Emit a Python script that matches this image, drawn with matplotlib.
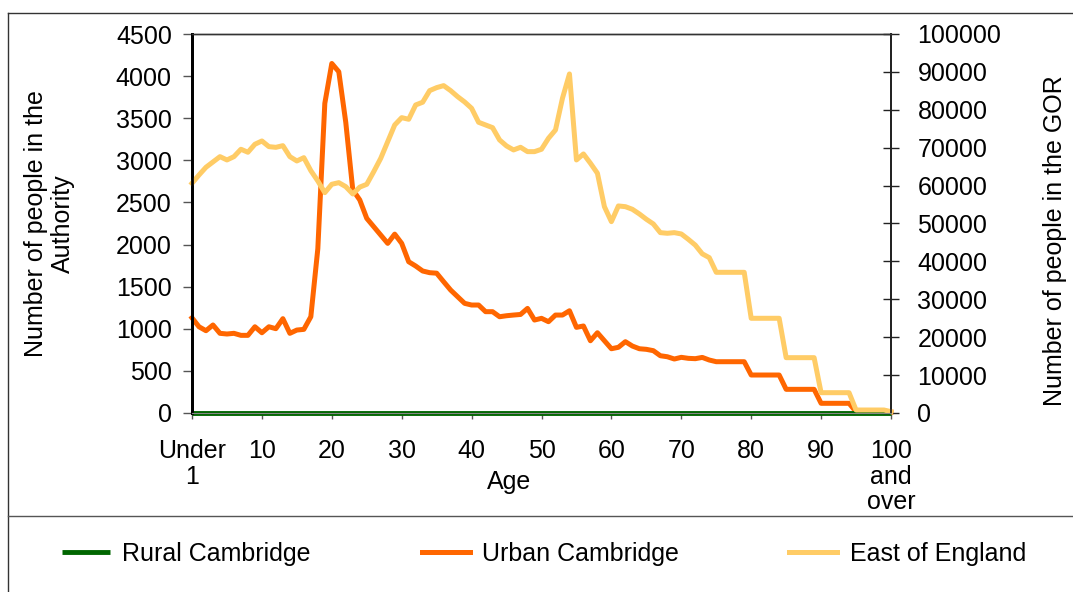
import matplotlib
matplotlib.use("Agg")
import matplotlib.pyplot as plt
from matplotlib.lines import Line2D
import numpy as np

plt.rcParams['font.family'] = ['Liberation Sans', 'DejaVu Sans']
plt.rcParams['font.size'] = 18

# ages 0 (Under 1) .. 100 (100 and over)
ages = list(range(101))

rural = [0] * 101

urban = [1130, 1024, 977, 1045, 946, 938, 946, 922, 922, 1024,
         953, 1024, 1001, 1120, 946, 985, 993, 1143, 1950, 3676,
         4150, 4052, 3450, 2650, 2530, 2311, 2212, 2113, 2014, 2124,
         2014, 1796, 1745, 1686, 1666, 1660, 1559, 1460, 1381, 1302,
         1282, 1282, 1203, 1203, 1143, 1155, 1163, 1170, 1242, 1104,
         1124, 1084, 1163, 1163, 1214, 1017, 1033, 858, 953, 858,
         763, 780, 847, 795, 763, 756, 740, 680, 668, 641,
         661, 649, 645, 660, 629, 609, 609, 609, 609, 609,
         451, 451, 451, 451, 451, 281, 281, 281, 281, 281,
         115, 115, 115, 115, 115, 15, 15, 15, 15, 15,
         10]

east = [60620, 62800, 64840, 66240, 67640, 66770, 67640, 69590, 68800, 70910,
        71780, 70280, 70100, 70540, 67640, 66500, 67370, 63940, 61220, 58140,
        60350, 60780, 59720, 57790, 59600, 60350, 63680, 67200, 71600, 76000,
        77930, 77500, 81280, 82000, 85060, 85850, 86380, 85060, 83470, 82070,
        80400, 76710, 76000, 75290, 72050, 70460, 69410, 70110, 68960, 68960,
        69590, 72490, 74680, 83050, 89460, 66770, 68350, 65900, 63260, 54440,
        50490, 54630, 54440, 53750, 52520, 51120, 49880, 47590, 47420, 47590,
        47240, 45830, 44300, 42000, 40990, 37120, 37120, 37120, 37120, 37120,
        24990, 24990, 24990, 24990, 24990, 14600, 14600, 14600, 14600, 14600,
        5360, 5360, 5360, 5360, 5360, 790, 790, 790, 790, 790,
        350]

xtick_pos = [0, 10, 20, 30, 40, 50, 60, 70, 80, 90, 100]
xtick_labels = ['Under\n1', '10', '20', '30', '40', '50', '60', '70', '80', '90',
                '100\nand\nover']

fig = plt.figure(figsize=(10.73, 5.92), dpi=100)
ax = fig.add_axes([192/1073, 1 - 413/592, 699/1073, 379/592])
ax2 = ax.twinx()

l1, = ax.plot(ages, rural, color='#006600', lw=3.5, solid_capstyle='butt', clip_on=False, zorder=3)
l2, = ax.plot(ages, urban, color='#FF6600', lw=3.6, clip_on=False)
l3, = ax2.plot(ages, east, color='#FFCC66', lw=3.6, clip_on=False)

ax.set_xlim(0, 100)
ax.set_ylim(0, 4500)
ax2.set_ylim(0, 100000)
ax.set_yticks(np.arange(0, 4501, 500))
ax2.set_yticks(np.arange(0, 100001, 10000))
ax.set_xticks(xtick_pos)
ax.set_xticklabels(xtick_labels, va='top', linespacing=1.1)

ax.tick_params(axis='y', direction='out', length=6.5, width=1, color='#555555', pad=8)
ax.tick_params(axis='x', direction='out', length=4.5, width=1, color='#555555', pad=14)
ax2.tick_params(axis='y', direction='inout', length=12, width=1, color='#222222', pad=13)

for a in (ax, ax2):
    a.spines['top'].set_color('#333333')
    a.spines['top'].set_linewidth(1)
    a.spines['left'].set_linewidth(2)
    a.spines['left'].set_color('black')
    a.spines['right'].set_linewidth(1.3)
    a.spines['right'].set_color('#222222')
    a.spines['bottom'].set_color('#888888')

ax.set_ylabel('Number of people in the\nAuthority', linespacing=1.15)
ax.yaxis.set_label_coords(-0.167, 0.5)
ax2.set_ylabel('Number of people in the GOR', rotation=90)
ax2.yaxis.set_label_coords(1.217, 0.456)
ax.set_xlabel('Age')
ax.xaxis.set_label_coords(0.453, -0.150)

# outer chart frame and legend separator
fig.add_artist(Line2D([8/1073, 8/1073], [0, 1 - 13/592], transform=fig.transFigure, color='#333333', lw=1))
fig.add_artist(Line2D([8/1073, 1], [1 - 13/592, 1 - 13/592], transform=fig.transFigure, color='#333333', lw=1))
fig.add_artist(Line2D([8/1073, 1], [1 - 516/592, 1 - 516/592], transform=fig.transFigure, color='#555555', lw=1))

fig.legend([l1, l2, l3], ['Rural Cambridge', 'Urban Cambridge', 'East of England'],
           loc='center left', bbox_to_anchor=(62/1073, 1 - 554/592), ncol=3, frameon=False,
           borderaxespad=0, borderpad=0, handlelength=1.92, handletextpad=0.5,
           columnspacing=4.42)

fig.savefig('out.png', dpi=100)
